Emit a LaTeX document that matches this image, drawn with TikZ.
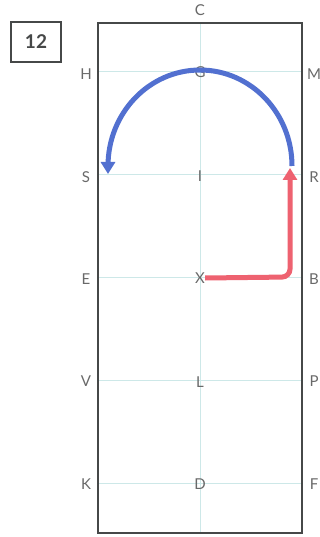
\documentclass[tikz,border=0pt]{standalone}
\usepackage{fontspec}
\setmainfont{Lato}
\usetikzlibrary{arrows.meta}
\definecolor{gridc}{RGB}{205,232,232}
\definecolor{framec}{RGB}{70,72,72}
\definecolor{letc}{RGB}{105,105,105}
\definecolor{bluec}{RGB}{82,112,208}
\definecolor{redc}{RGB}{238,98,112}
\begin{document}
\begin{tikzpicture}[x=1pt,y=-1pt,
  lett/.style={font=\fontsize{15}{15}\selectfont, text=letc, inner sep=0pt},
  gridl/.style={draw=gridc, line width=1pt},
  frame/.style={draw=framec, line width=2pt},
  bluepath/.style={draw=bluec, line width=5pt, -{Triangle[length=12pt,width=14pt]}},
  redpath/.style={draw=redc, line width=5pt, rounded corners=8pt, -{Triangle[length=12pt,width=14pt]}}]
\useasboundingbox (0,0) rectangle (320,537);
\fill[white] (0,0) rectangle (320,537);
% grid lines
\foreach \yy in {72,175,277,380,483} \draw[gridl] (98,\yy) -- (302,\yy);
\draw[gridl] (200,23) -- (200,533);
% frame
\draw[frame] (98,23) rectangle (302,533);
% number box
\node[draw=framec, line width=1.8pt, minimum width=50pt, minimum height=40pt, inner sep=0pt,
      font=\fontsize{19}{19}\bfseries\selectfont, text=framec] (num) at (36,42) {12};
% letters
\node[lett] (C) at (200,10) {C};
\node[lett] (H) at (86,74) {H};
\node[lett] (G) at (200,72) {G};
\node[lett] (M) at (314,74) {M};
\node[lett] (S) at (86,177) {S};
\node[lett] (I) at (200,176) {I};
\node[lett] (R) at (314,177) {R};
\node[lett] (E) at (86,279) {E};
\node[lett] (X) at (200,278) {X};
\node[lett] (B) at (314,279) {B};
\node[lett] (V) at (86,381) {V};
\node[lett] (L) at (200,382) {L};
\node[lett] (P) at (314,381) {P};
\node[lett] (K) at (86,484) {K};
\node[lett] (D) at (200,484) {D};
\node[lett] (F) at (314,484) {F};
% paths
\coordinate (redend) at (290,168);
\coordinate (bluestart) at (292,166);
\draw[redpath] (X.east) -- (290,277) -- (redend);
\draw[bluepath] (bluestart) arc[start angle=0, end angle=180, x radius=92pt, y radius=96pt] -- ++(0,8);
\end{tikzpicture}
\end{document}
